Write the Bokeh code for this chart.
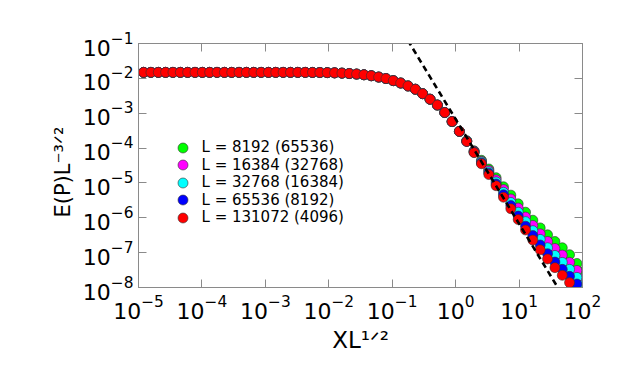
from bokeh.plotting import figure
from bokeh.models import (LogAxis, FixedTicker, Legend, LegendItem, ColumnDataSource,
                          CustomJSTickFormatter, LogTickFormatter, Title)
from bokeh.embed import file_html
from bokeh.resources import INLINE

# ---------------- data ----------------
# log10 of X L^{1/2} for the sampled points
log_x = [-4.920, -4.804, -4.688, -4.573, -4.457, -4.341, -4.225, -4.109, -3.994, -3.878,
         -3.762, -3.646, -3.530, -3.415, -3.299, -3.183, -3.067, -2.951, -2.836, -2.720,
         -2.604, -2.488, -2.372, -2.257, -2.141, -2.025, -1.909, -1.793, -1.678, -1.562,
         -1.446, -1.330, -1.214, -1.099, -0.983, -0.867, -0.751, -0.635, -0.520, -0.404,
         -0.288, -0.172, -0.056, 0.059, 0.175, 0.291, 0.407, 0.523, 0.638, 0.754,
         0.870, 0.986, 1.102, 1.217, 1.333, 1.449, 1.565, 1.681, 1.796, 1.912, 2.028]

# log10 of E(P) L^{-3/2}: part shared by all sizes (collapse region)
common_log_y = [-1.828, -1.828, -1.828, -1.828, -1.828, -1.828, -1.828, -1.828, -1.828, -1.828,
                -1.828, -1.828, -1.828, -1.828, -1.828, -1.828, -1.828, -1.828, -1.828, -1.828,
                -1.828, -1.828, -1.828, -1.830, -1.832, -1.836, -1.842, -1.850, -1.862, -1.877,
                -1.897, -1.925, -1.963, -2.006, -2.066, -2.134, -2.218, -2.312, -2.440, -2.598,
                -2.765, -2.980, -3.240, -3.520]

# tails where the sizes separate
green_tail = [-3.79, -4.08, -4.35, -4.60, -4.85, -5.11, -5.35, -5.60, -5.84, -6.07,
              -6.29, -6.49, -6.68, -6.86, -7.06, -7.31, -7.53]
magenta_tail = [-3.80, -4.09, -4.38, -4.64, -4.91, -5.19, -5.46, -5.72, -5.98, -6.22,
                -6.46, -6.68, -6.88, -7.07, -7.28, -7.51, -7.73]
cyan_tail = [-3.80, -4.11, -4.40, -4.68, -4.97, -5.27, -5.56, -5.84, -6.11, -6.37,
             -6.62, -6.86, -7.08, -7.28, -7.48, -7.71, -7.92]
blue_tail = [-3.81, -4.12, -4.43, -4.72, -5.03, -5.34, -5.65, -5.95, -6.24, -6.51,
             -6.78, -7.03, -7.27, -7.48, -7.68, -7.90, -8.11]
red_tail = [-3.81, -4.13, -4.45, -4.76, -5.08, -5.41, -5.74, -6.05, -6.35, -6.64,
            -6.92, -7.18, -7.43, -7.65, -7.86]

series_labels = ["L = 8192 (65536)", "L = 16384 (32768)", "L = 32768 (16384)",
                 "L = 65536 (8192)", "L = 131072 (4096)"]
series_colors = ["#00ff00", "#ff00ff", "#00ffff", "#0000ff", "#ff0000"]
series_tails = [green_tail, magenta_tail, cyan_tail, blue_tail, red_tail]

# dashed guide line (slope -3)
guide_x = [0.1, 100.0]
guide_y = [0.675, 6.75e-10]

x_ticks = [1e-5, 1e-4, 1e-3, 1e-2, 1e-1, 1e0, 1e1, 1e2]
y_ticks = [1e-8, 1e-7, 1e-6, 1e-5, 1e-4, 1e-3, 1e-2, 1e-1]

x_title = "XL\u00b9\u141f\u00b2"
y_title = "E(P)L\u207b\u00b3\u141f\u00b2"

# ---------------- figure ----------------
FONT = "DejaVu Sans"
GRAY = "#8a8a8a"

p = figure(width=615, height=366, x_axis_type="log", y_axis_type="log",
           x_range=(1e-5, 1e2), y_range=(1e-8, 1e-1),
           output_backend="svg", toolbar_location=None,
           min_border_left=138, min_border_right=33,
           min_border_top=43, min_border_bottom=79)
p.xgrid.visible = False
p.ygrid.visible = False
p.outline_line_color = GRAY
p.background_fill_color = "white"
p.border_fill_color = "white"

bottom_axis = p.below[0]
left_axis = p.left[0]
top_axis = LogAxis()
right_axis = LogAxis()
p.add_layout(top_axis, "above")
p.add_layout(right_axis, "right")

for ax in [bottom_axis, top_axis]:
    ax.ticker = FixedTicker(ticks=x_ticks, minor_ticks=[])
for ax in [left_axis, right_axis]:
    ax.ticker = FixedTicker(ticks=y_ticks, minor_ticks=[])
for ax in [bottom_axis, top_axis, left_axis, right_axis]:
    ax.major_tick_in = 8
    ax.major_tick_out = 0
    ax.minor_tick_in = 0
    ax.minor_tick_out = 0
    ax.major_tick_line_color = GRAY
    ax.axis_line_color = GRAY
for ax in [top_axis, right_axis]:
    ax.formatter = CustomJSTickFormatter(code="return ''")
    ax.major_label_standoff = 0

for ax in [bottom_axis, left_axis]:
    ax.formatter = LogTickFormatter()
    ax.major_label_text_font = FONT
    ax.major_label_text_font_size = "22px"
    ax.major_label_text_color = "black"
    ax.axis_label_text_font = FONT
    ax.axis_label_text_font_size = "23px"
    ax.axis_label_text_font_style = "normal"
    ax.axis_label_text_color = "black"

bottom_axis.major_label_standoff = 7
bottom_axis.axis_label = x_title
bottom_axis.axis_label_standoff = 5
left_axis.major_label_standoff = 5

# y title as a side title; anchored at the bottom end of the frame and lifted
ytitle = Title(text=y_title, align="left", offset=70, standoff=10,
               text_font=FONT, text_font_size="21px", text_font_style="normal",
               text_color="black")
p.add_layout(ytitle, "left")

# ---------------- data glyphs ----------------
renderers = []
for lab, col, tail in zip(series_labels, series_colors, series_tails):
    ly = common_log_y + tail
    xs = [10.0 ** v for v in log_x[:len(ly)]]
    ys = [10.0 ** v for v in ly]
    src = ColumnDataSource(dict(x=xs, y=ys))
    r = p.scatter("x", "y", source=src, size=10, fill_color=col,
                  line_color="#333333", line_width=0.6)
    renderers.append(r)

p.line(guide_x, guide_y, line_color="black", line_width=2.6, line_dash="6 4")

# one legend box per entry so the rows sit 17.5 px apart like the original
ROW_STEP = 17.5
for i, (lab, r) in enumerate(zip(series_labels, renderers)):
    lg = Legend(items=[LegendItem(label=lab, renderers=[r])],
                location=(31.5, 127.5 - ROW_STEP * i))
    lg.label_text_font = FONT
    lg.label_text_font_size = "15px"
    lg.label_text_color = "black"
    lg.glyph_width = 25
    lg.glyph_height = 25
    lg.label_height = 25
    lg.label_standoff = 7
    lg.padding = 0
    lg.margin = 0
    lg.border_line_alpha = 0
    lg.background_fill_alpha = 0
    p.add_layout(lg)

open("out.html", "w").write(file_html(p, INLINE))
